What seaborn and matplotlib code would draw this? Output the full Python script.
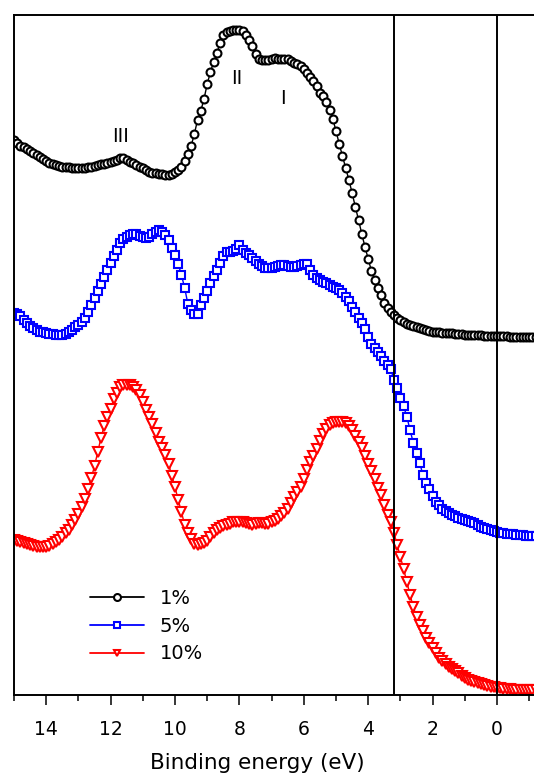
import numpy as np
import pandas as pd
import matplotlib
matplotlib.use("Agg")
import matplotlib.pyplot as plt
import seaborn as sns
from matplotlib.ticker import MultipleLocator

# binding energy grid (eV), 15.0 down to -1.2 in 0.1 steps
energy = np.round(np.arange(150, -13, -1) / 10.0, 1)

# intensities (arb. units, offset stacked)
int_1 = [555, 552, 549, 548, 546, 544, 542, 540, 538, 536,
         534, 532, 531, 530, 529, 528, 528, 528, 527, 527,
         527, 527, 527, 528, 528, 529, 530, 531, 531, 532,
         533, 534, 535, 537, 537, 535, 533, 532, 530, 528,
         527, 525, 523, 522, 522, 521, 521, 520, 520, 521,
         523, 525, 528, 534, 541, 549, 561, 575, 584, 596,
         611, 623, 633, 642, 652, 660, 663, 664, 665, 665,
         665, 664, 660, 655, 649, 641, 636, 635, 635, 635,
         636, 637, 636, 636, 636, 636, 634, 632, 631, 629,
         626, 622, 618, 614, 609, 602, 599, 593, 585, 576,
         564, 551, 539, 527, 515, 502, 488, 475, 461, 448,
         436, 424, 415, 407, 400, 392, 387, 383, 380, 377,
         375, 373, 371, 370, 369, 368, 367, 366, 365, 364,
         363, 363, 363, 362, 362, 362, 362, 361, 361, 361,
         360, 360, 360, 360, 360, 360, 359, 359, 359, 359,
         359,
         359, 359, 359, 358, 358, 358, 358, 358, 358, 358, 358, 358]

int_5 = [382, 381, 379, 375, 372, 369, 367, 365, 363, 363,
         362, 361, 361, 360, 360, 360, 361, 363, 365, 368,
         370, 373, 377, 383, 390, 397, 404, 411, 418, 425,
         432, 439, 445, 452, 456, 458, 460, 461, 461, 459,
         458, 457, 458, 461, 463, 465, 463, 460, 455, 447,
         440, 431, 420, 407, 391, 385, 381, 381, 390, 397,
         404, 412, 419, 425, 432, 439, 443, 443, 444, 446,
         450, 445, 442, 440, 437, 434, 431, 429, 427, 427,
         427, 428, 429, 430, 430, 429, 428, 428, 429, 430,
         431, 431, 425, 420, 417, 415, 413, 412, 410, 408,
         407, 405, 402, 398, 394, 388, 383, 377, 372, 366,
         358, 351, 347, 343, 339, 334, 330, 326, 315, 307,
         297, 289, 278, 265, 252, 242, 232, 220, 212, 206,
         199, 193, 190, 186, 184, 182, 180, 179, 177, 176,
         175, 174, 173, 172, 170, 168, 167, 166, 165, 164,
         163,
         162, 162, 161, 161, 161, 160, 160, 160, 159, 159, 159, 159]

int_10 = [155, 154, 153, 152, 151, 150, 149, 148, 148, 148,
          148, 149, 151, 153, 155, 158, 162, 165, 170, 175,
          181, 188, 196, 206, 217, 229, 243, 257, 269, 278,
          286, 296, 302, 308, 310, 310, 310, 308, 305, 300,
          293, 285, 278, 271, 262, 253, 247, 240, 231, 219,
          208, 195, 183, 170, 162, 156, 151, 150, 151, 152,
          154, 158, 162, 165, 167, 169, 170, 171, 173, 173,
          173, 173, 172, 171, 170, 171, 172, 172, 171, 171,
          173, 174, 176, 179, 182, 186, 192, 198, 203, 208,
          216, 225, 233, 239, 246, 254, 261, 266, 270, 272,
          273, 273, 273, 272, 269, 265, 259, 253, 247, 239,
          231, 224, 216, 207, 200, 190, 180, 173, 162, 150,
          138, 126, 113, 100, 88, 78, 70, 64, 57, 52,
          47, 42, 37, 34, 31, 28, 26, 24, 22, 19,
          17, 15, 14, 13, 12, 11, 10, 9, 8, 8,
          7,
          7, 6, 6, 6, 5, 5, 5, 5, 5, 5, 5, 5]

labels = ["1%", "5%", "10%"]
colors = ["#000000", "#0000ff", "#ff0000"]
markers = ["o", "s", "v"]
msizes = [5.7, 6.3, 7.5]
vlines = [3.2, 0.0]
peak_names = ["III", "II", "I"]
peak_pos = [(11.7, 558), (8.07, 616), (6.65, 597)]

sns.set_style("ticks")
plt.rcParams["font.family"] = ["DejaVu Sans"]
for key in ["text.color", "axes.labelcolor", "xtick.color", "ytick.color", "axes.edgecolor"]:
    plt.rcParams[key] = "black"

fig = plt.figure(figsize=(5.34, 7.74), dpi=100)
ax = fig.add_axes([14 / 534, 79 / 774, 522 / 534, 680 / 774])

for lab, ys, c, m, ms in zip(labels, [int_1, int_5, int_10], colors, markers, msizes):
    df = pd.DataFrame({"energy": energy, "intensity": ys})
    sns.lineplot(data=df, x="energy", y="intensity", ax=ax, color=c, lw=1.0,
                 marker=m, markersize=ms, markerfacecolor="white",
                 markeredgecolor=c, markeredgewidth=1.5, label=lab,
                 sort=False)

for v in vlines:
    ax.axvline(v, color="black", lw=1.4, zorder=5)

for name, (px, py) in zip(peak_names, peak_pos):
    ax.text(px, py, name, fontsize=14, ha="center", va="center")

ax.set_xlim(15, -1.21)
ax.set_ylim(0, 680)
ax.xaxis.set_major_locator(MultipleLocator(2))
ax.xaxis.set_minor_locator(MultipleLocator(1))
ax.set_yticks([])
ax.set_ylabel("")
ax.tick_params(axis="x", which="major", length=7, width=1.1, labelsize=13.5, pad=11)
ax.tick_params(axis="x", which="minor", length=4, width=1.1)
for s in ax.spines.values():
    s.set_linewidth(1.4)
ax.set_xlabel("Binding energy (eV)", fontsize=15.5)
ax.xaxis.set_label_coords(0.4655, -0.085)

leg = ax.legend(loc="upper left", bbox_to_anchor=(0.1456, 0.156), frameon=False,
                fontsize=14, handlelength=2.8, handletextpad=0.77,
                labelspacing=0.45, borderpad=0, borderaxespad=0)
for h in leg.legend_handles:
    h.set_markersize(5)
    h.set_linewidth(1.3)

fig.savefig("out.png", dpi=100)
